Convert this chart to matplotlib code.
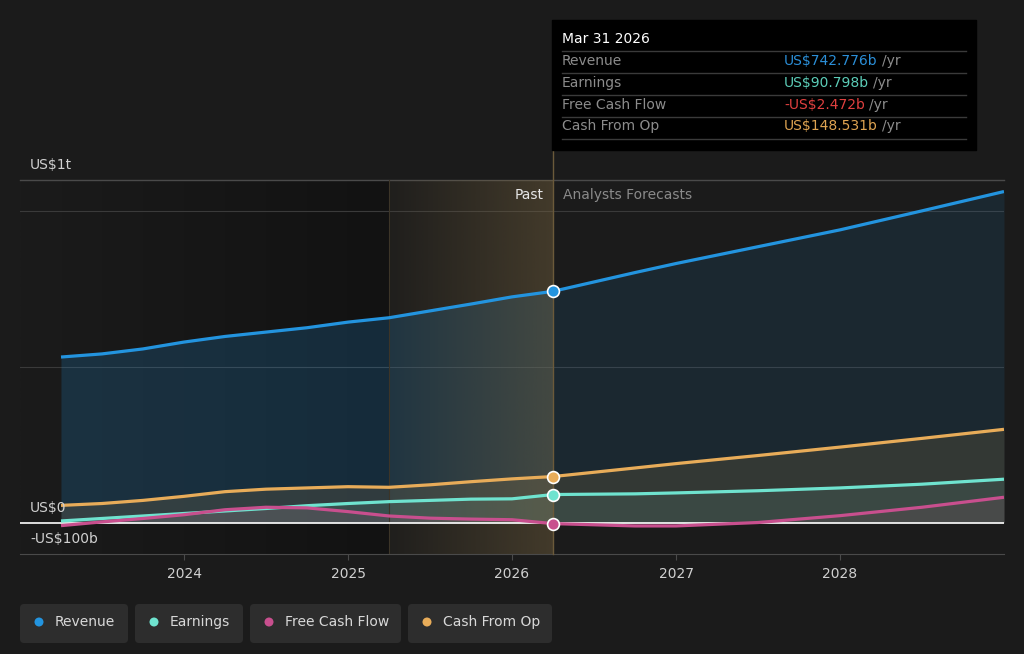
import numpy as np
import matplotlib
matplotlib.use("Agg")
import matplotlib.pyplot as plt
from matplotlib.colors import LinearSegmentedColormap, to_rgb
from matplotlib.patches import FancyBboxPatch, Rectangle, Circle
from matplotlib.lines import Line2D

# --- data (US$ billions), x as decimal years ---
past_t = [2023.25, 2023.5, 2023.75, 2024.0, 2024.25, 2024.5, 2024.75,
          2025.0, 2025.25, 2025.5, 2025.75, 2026.0, 2026.25]
revenue_past = [532, 542, 558, 580, 598, 612, 626, 644, 658, 680, 702, 725, 742.776]
earnings_past = [6, 14, 22, 30, 38, 46, 55, 62, 68, 72, 76, 77, 90.798]
fcf_past = [-9, 3, 14, 26, 42, 50, 48, 36, 22, 15, 12, 10, -2.472]
cfo_past = [56, 62, 72, 85, 100, 108, 112, 116, 114, 122, 132, 141, 148.531]

fc_t = [2026.25, 2026.75, 2027.0, 2027.5, 2028.0, 2028.5, 2029.0]
revenue_fc = [742.776, 803, 832, 886, 940, 1001, 1063]
earnings_fc = [90.798, 93, 96, 103, 112, 124, 140]
fcf_fc = [-2.472, -10, -10, 1, 23, 50, 82]
cfo_fc = [148.531, 176, 190, 216, 243, 271, 300]

series_names = ["Revenue", "Earnings", "Free Cash Flow", "Cash From Op"]
series_colors = ["#2394df", "#6fe3cf", "#c84f8e", "#e8ac59"]
tip_values = ["US$742.776b", "US$90.798b", "-US$2.472b", "US$148.531b"]
tip_colors = ["#2b8fd8", "#5ccdb8", "#e0403f", "#dfa452"]
year_ticks = [2024, 2025, 2026, 2027, 2028]
past_start = 2025.25

BG = "#1b1b1b"
W, H = 1024, 654


def fx(x):
    return x / W


def fy(y):
    return 1 - y / H


fig = plt.figure(figsize=(10.24, 6.54), dpi=100, facecolor=BG)
ax = fig.add_axes([fx(20), fy(554), fx(984), 374 / H])
ax.set_facecolor(BG)
ax.set_xlim(2023.0, 2029.0)
ax.set_ylim(-100, 1100)

# darker gradient left of the past band
left_cmap = LinearSegmentedColormap.from_list("l", [BG, "#121212"])
ax.imshow(np.linspace(0, 1, 256).reshape(1, -1), cmap=left_cmap,
          extent=[2023.0, past_start, -100, 1100], aspect="auto", zorder=0)

# grid
for v in [500, 1000]:
    ax.axhline(v, color="#3a3a3a", lw=0.8, zorder=1)
ax.axhline(1100, color="#4a4a4a", lw=1.0, zorder=1, clip_on=False)

datasets = [(revenue_past, revenue_fc), (earnings_past, earnings_fc),
            (fcf_past, fcf_fc), (cfo_past, cfo_fc)]
alpha_past = [0.2, 0.12, 0.12, 0.13]
alpha_fc = [0.11, 0.10, 0.10, 0.12]

for (p, f), c, ap, af in zip(datasets, series_colors, alpha_past, alpha_fc):
    ax.fill_between(past_t, p, 0, color=c, alpha=ap, lw=0, zorder=2)
    ax.fill_between(fc_t, f, 0, color=c, alpha=af, lw=0, zorder=2)

# past band gradient overlay
rgb = to_rgb("#7a6640")
band = np.zeros((1, 256, 4))
band[..., 0], band[..., 1], band[..., 2] = rgb
band[..., 3] = np.linspace(0.05, 0.42, 256)
ax.imshow(band, extent=[past_start, past_t[-1], -100, 1100], aspect="auto", zorder=3)
ax.axvline(past_start, color="#3c3528", lw=0.8, zorder=3)

ax.axhline(0, color="white", lw=1.2, zorder=4)

for (p, f), c in zip(datasets, series_colors):
    ax.plot(past_t, p, color=c, lw=2.3, zorder=5, solid_capstyle="butt")
    ax.plot(fc_t, f, color=c, lw=2.3, zorder=5, solid_capstyle="butt")

ax.plot([past_t[-1], past_t[-1]], [-100, 1197], color="#6b5a3a", lw=1.0,
        zorder=4, clip_on=False)

for (p, f), c in zip(datasets, series_colors):
    ax.plot(past_t[-1], p[-1], "o", ms=8.5, mfc=c, mec="white", mew=1.2, zorder=6)

ax.text(past_t[-1] - 0.06, 1052, "Past", color="#e6e6e6", fontsize=10,
        ha="right", va="center", zorder=7)
ax.text(past_t[-1] + 0.06, 1052, "Analysts Forecasts", color="#8a8a8a",
        fontsize=10, ha="left", va="center", zorder=7)

# axes styling
for s in ["top", "right", "left"]:
    ax.spines[s].set_visible(False)
ax.spines["bottom"].set_color("#4a4a4a")
ax.set_yticks([])
ax.set_xticks(year_ticks)
ax.set_xticklabels([str(y) for y in year_ticks])
ax.tick_params(axis="x", colors="#4a4a4a", labelcolor="#d0d0d0",
               labelsize=10, length=4, pad=5)

# y labels
fig.text(fx(30), fy(165), "US$1t", color="#d0d0d0", fontsize=10, va="center")
fig.text(fx(30), fy(508), "US$0", color="#d0d0d0", fontsize=10, va="center")
fig.text(fx(30), fy(539), "-US$100b", color="#d0d0d0", fontsize=10, va="center")

# tooltip
fig.add_artist(Rectangle((fx(552), fy(150)), fx(424), 130 / H,
                         transform=fig.transFigure, color="black", zorder=10))
fig.text(fx(562), fy(39), "Mar 31 2026", color="white", fontsize=10,
         va="center", zorder=11)
row_y = [61, 83, 105, 126]
for yy in [51, 73, 95, 117, 139]:
    fig.add_artist(Line2D([fx(562), fx(966)], [fy(yy), fy(yy)],
                          transform=fig.transFigure, color="#3a3a3a", lw=1, zorder=11))
for name, val, col, yy in zip(series_names, tip_values, tip_colors, row_y):
    fig.text(fx(562), fy(yy), name, color="#8c8c8c", fontsize=10, va="center", zorder=11)
    t = fig.text(fx(784), fy(yy), val, color=col, fontsize=10, va="center", zorder=11)
    fig.canvas.draw()
    bb = t.get_window_extent()
    fig.text((bb.x1 + 4) / W, fy(yy), "/yr", color="#8c8c8c", fontsize=10,
             va="center", zorder=11)

# legend buttons
boxes = [(20, 128), (135, 243), (250, 401), (408, 552)]
tr = fig.dpi_scale_trans
for (x0, x1), name, c in zip(boxes, series_names, series_colors):
    fig.add_artist(FancyBboxPatch((x0 / 100, (H - 643) / 100), (x1 - x0) / 100, 0.39,
                                  boxstyle="round,pad=0,rounding_size=0.04",
                                  transform=tr, fc="#2d2d2d", ec="none"))
    fig.add_artist(Circle(((x0 + 19) / 100, (H - 622) / 100), 0.045,
                          transform=tr, fc=c, ec="none"))
    fig.text(fx(x0 + 35), fy(622), name, color="#d8d8d8", fontsize=10, va="center")

fig.savefig("out.png", dpi=100, facecolor=BG)
